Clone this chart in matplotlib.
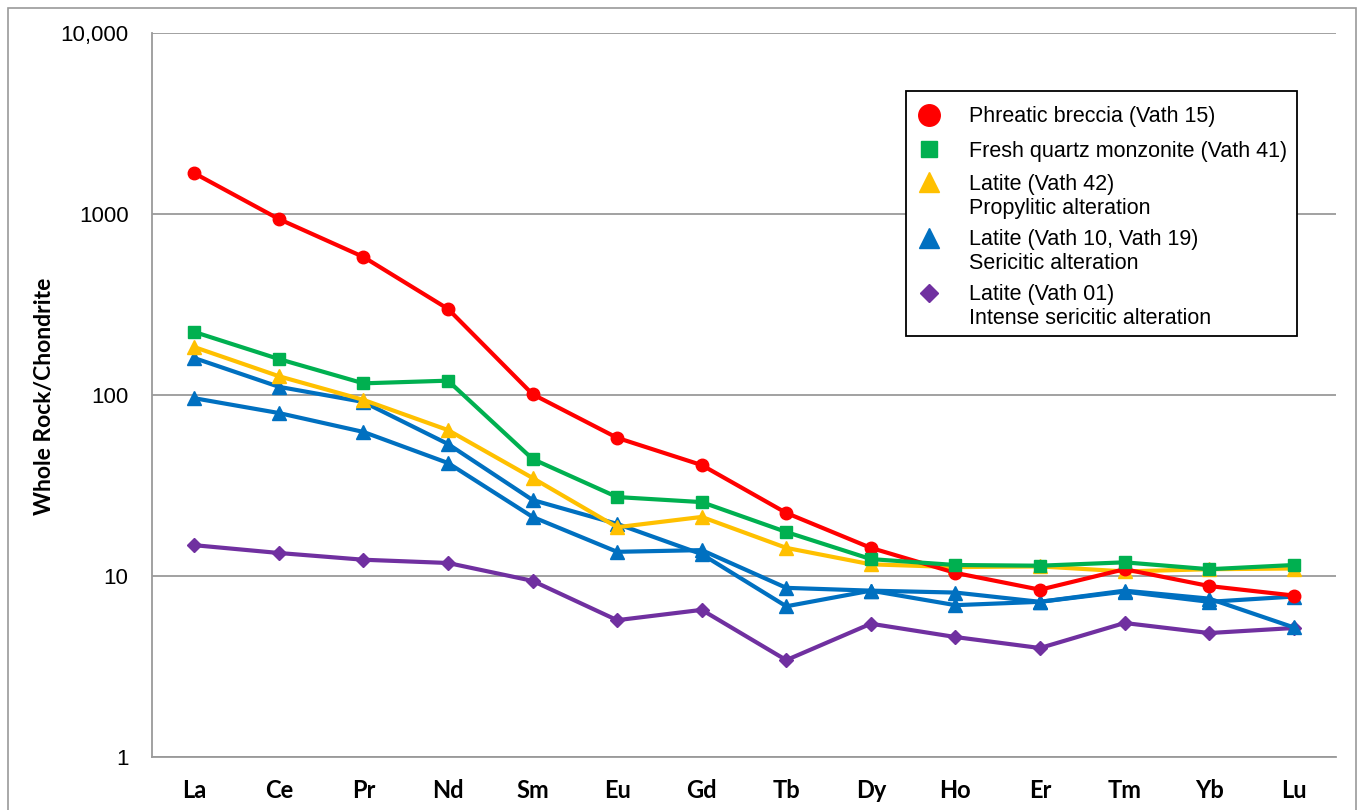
import matplotlib
matplotlib.use("Agg")
import matplotlib.pyplot as plt
from matplotlib.lines import Line2D
from matplotlib.patches import Rectangle
from matplotlib.ticker import FixedLocator, FixedFormatter, NullLocator

# Rare earth elements (chondrite-normalised)
elements = ["La", "Ce", "Pr", "Nd", "Sm", "Eu", "Gd", "Tb", "Dy", "Ho", "Er", "Tm", "Yb", "Lu"]

phreatic_breccia_v15 = [1680, 938, 579, 299, 101, 58, 41, 22.3, 14.3, 10.4, 8.4, 10.9, 8.8, 7.8]
quartz_monzonite_v41 = [223, 158, 116, 120, 44.3, 27.3, 25.6, 17.5, 12.4, 11.5, 11.4, 11.9, 10.9, 11.5]
latite_v42 = [184, 127, 94, 64, 34.8, 18.6, 21.2, 14.3, 11.6, 11.2, 11.3, 10.6, 10.9, 11.0]
latite_v10 = [160, 111, 91.5, 53.6, 26.3, 19.4, 13.2, 6.8, 8.3, 6.9, 7.2, 8.2, 7.2, 7.7]
latite_v19 = [96, 79.5, 62.5, 42.1, 21.2, 13.6, 13.9, 8.6, 8.3, 8.1, 7.2, 8.3, 7.5, 5.2]
latite_v01 = [14.8, 13.4, 12.3, 11.8, 9.4, 5.7, 6.5, 3.43, 5.45, 4.6, 4.0, 5.5, 4.84, 5.16]

ytick_values = [1, 10, 100, 1000, 10000]
ytick_labels = ["1", "10", "100", "1000", "10,000"]

legend_labels = [
    "Phreatic breccia (Vath 15)",
    "Fresh quartz monzonite (Vath 41)",
    "Latite (Vath 42)\nPropylitic alteration",
    "Latite (Vath 10, Vath 19)\nSericitic alteration",
    "Latite (Vath 01)\nIntense sericitic alteration",
]

RED = "#FF0000"
GREEN = "#00B050"
YELLOW = "#FFC000"
BLUE = "#0070C0"
PURPLE = "#7030A0"

W, H = 1358, 810
fig = plt.figure(figsize=(W / 100, H / 100), dpi=100)
fig.patch.set_facecolor("white")


def fx(px):
    return px / W


def fy(py):
    return 1 - py / H


ax = fig.add_axes([fx(152), fy(757), (1336 - 152) / W, (757 - 33) / H])

x = list(range(len(elements)))
lw = 3.0

# drawing order: bottom to top
ax.plot(x, latite_v01, color=PURPLE, lw=lw, marker="D", ms=7, zorder=3)
ax.plot(x, latite_v10, color=BLUE, lw=lw, marker="^", ms=9.5, zorder=4)
ax.plot(x, latite_v19, color=BLUE, lw=lw, marker="^", ms=9.5, zorder=4)
ax.plot(x, latite_v42, color=YELLOW, lw=lw, marker="^", ms=9.5, zorder=5)
ax.plot(x, phreatic_breccia_v15, color=RED, lw=lw, marker="o", ms=9, zorder=6)
ax.plot(x, quartz_monzonite_v41, color=GREEN, lw=lw, marker="s", ms=9, zorder=7)

ax.set_yscale("log")
ax.set_ylim(1, 10000)
ax.set_xlim(-0.5, len(elements) - 0.5)

ax.yaxis.set_major_locator(FixedLocator(ytick_values))
ax.yaxis.set_major_formatter(FixedFormatter(ytick_labels))
ax.yaxis.set_minor_locator(NullLocator())
ax.set_xticks(x)
ax.set_xticklabels(elements, fontfamily="Lato", fontweight="bold", fontsize=17)
for lab in ax.get_yticklabels():
    lab.set_fontfamily("Liberation Sans")
    lab.set_fontsize(16)
ax.tick_params(axis="both", length=0)
ax.tick_params(axis="y", pad=17)
ax.tick_params(axis="x", pad=16)

ax.grid(axis="y", color="#9A9A9A", lw=1.3)
ax.set_axisbelow(True)
for side in ("top", "right"):
    ax.spines[side].set_visible(False)
for side in ("left", "bottom"):
    ax.spines[side].set_color("#9A9A9A")
    ax.spines[side].set_linewidth(1.3)

fig.text(fx(45), fy(396), "Whole Rock/Chondrite", rotation=90,
         ha="center", va="center", fontfamily="Lato", fontweight="bold", fontsize=16.5)

# legend box: marker aligned with the first line of each entry
fig.patches.append(Rectangle((fx(906), fy(336)), (1297 - 906) / W, (336 - 91) / H,
                             transform=fig.transFigure, facecolor="white",
                             edgecolor="black", lw=1.3, zorder=10))
legend_handles = [
    dict(marker="o", color=RED, ms=15.5),
    dict(marker="s", color=GREEN, ms=12),
    dict(marker="^", color=YELLOW, ms=15),
    dict(marker="^", color=BLUE, ms=15),
    dict(marker="D", color=PURPLE, ms=9),
]
marker_rows = [115, 149, 182, 238, 293]
baseline_rows = [122, 157, 190, 245, 300]
for style, mrow, brow, label in zip(legend_handles, marker_rows, baseline_rows, legend_labels):
    fig.add_artist(Line2D([fx(929)], [fy(mrow)], ls="none", transform=fig.transFigure,
                          zorder=11, **style))
    for k, line in enumerate(label.split("\n")):
        fig.text(fx(969), fy(brow + 24 * k), line, ha="left", va="baseline",
                 fontfamily="Liberation Sans", fontsize=15.5, zorder=11)

# outer chart border
fig.patches.append(Rectangle((fx(8), -0.01), (1356 - 8) / W, fy(8) + 0.01,
                             transform=fig.transFigure, fill=False,
                             edgecolor="#9A9A9A", lw=1.2, zorder=0))

fig.savefig("out.png", dpi=100)
